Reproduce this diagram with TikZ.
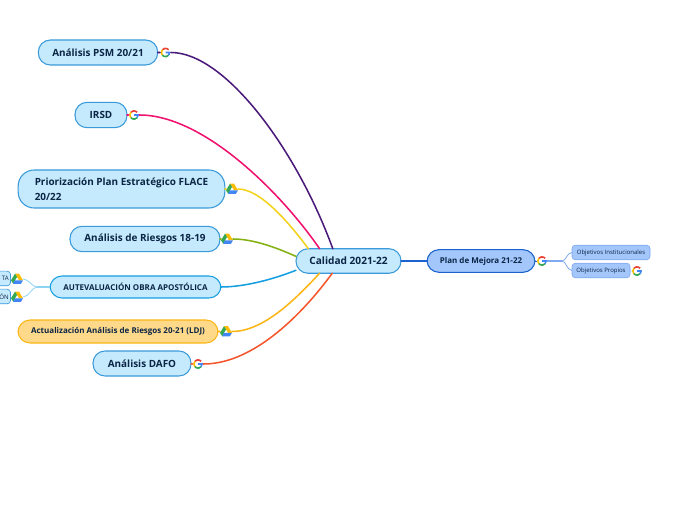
\documentclass[tikz,border=0pt]{standalone}
\usepackage{fontspec}
\setmainfont{Open Sans}
\definecolor{inkblue}{HTML}{0B2545}
\definecolor{gred}{HTML}{EA4335}
\definecolor{gyellow}{HTML}{FBBC05}
\definecolor{ggreen}{HTML}{34A853}
\definecolor{gblue}{HTML}{4285F4}
\definecolor{boxfill}{HTML}{C5E9FD}
\definecolor{boxline}{HTML}{3A9AD9}
\definecolor{planfill}{HTML}{A3C6FB}
\definecolor{planline}{HTML}{1A62CC}
\definecolor{twigplan}{HTML}{7FA9F0}
\definecolor{twigsky}{HTML}{8FD3F4}
\definecolor{ldjfill}{HTML}{FFD98A}
\definecolor{cpurple}{HTML}{4A1A7A}
\definecolor{cpink}{HTML}{F0106E}
\definecolor{cyell}{HTML}{F2D21A}
\definecolor{cgreen}{HTML}{84B012}
\definecolor{cblue}{HTML}{159FE0}
\definecolor{corange}{HTML}{FBB616}
\definecolor{cred}{HTML}{F4552A}
\tikzset{
topicbox/.style={draw,rectangle,rounded corners=9pt,inner sep=0pt,line width=.8pt,text=inkblue,font=\fontsize{7.45}{11.25}\selectfont\bfseries},
sky/.style={topicbox,fill=boxfill,draw=boxline},
leafbox/.style={sky,rounded corners=2.5pt,line width=.5pt,minimum width=22.5pt,minimum height=11pt,text width=20pt,align=right,font=\fontsize{4.6}{6}\selectfont},
objbox/.style={topicbox,fill=planfill,draw=twigplan,rounded corners=2.5pt,line width=.5pt,minimum height=10.9pt,font=\fontsize{4.5}{6}\selectfont\mdseries},
gicon/.style={circle,minimum size=8.2pt,inner sep=0pt,path picture={
\begin{scope}[shift={(path picture bounding box.center)},x=1pt,y=1pt,line width=1.2pt]
\draw[gred] (40:3.1) arc (40:140:3.1);
\draw[gyellow] (140:3.1) arc (140:220:3.1);
\draw[ggreen] (220:3.1) arc (220:320:3.1);
\draw[gblue] (320:3.1) arc (320:360:3.1) -- (0,0);
\end{scope}}},
driveicon/.style={rectangle,minimum width=9pt,minimum height=8pt,inner sep=0pt,path picture={
\begin{scope}[shift={(path picture bounding box.center)},x=1pt,y=1pt]
\fill[gyellow] (-1.5,4) -- (1.5,4) -- (4.5,-1) -- (1.5,-1) -- cycle;
\fill[ggreen] (-1.5,4) -- (0,1.6) -- (-2.8,-3.6) -- (-4.5,-1) -- cycle;
\fill[gblue] (-1.6,-1) -- (4.5,-1) -- (2.9,-3.6) -- (-2.9,-3.6) -- cycle;
\end{scope}}},
cable/.style={line width=1.15pt,line cap=round},
twig/.style={line width=.6pt}
}
\begin{document}
\begin{tikzpicture}[x=.75pt,y=-.75pt,inner sep=0pt,outer sep=0pt]
\useasboundingbox (0,0) rectangle (696,520);
% central node
\draw (348.5,261) node[sky,minimum width=78.75pt,minimum height=18.4pt,font=\fontsize{7.6}{11}\selectfont\bfseries] (calidad) {Calidad 2021-22};
% left side
\draw (98,52.5) node[sky,minimum width=89.5pt,minimum height=18.75pt] (psm) {Análisis PSM 20/21};
\draw (165.5,52.5) node[gicon] (gpsm) {};
\draw (101,115) node[sky,minimum width=39pt,minimum height=19pt] (irsd) {IRSD};
\draw (134,115) node[gicon] (girsd) {};
\draw (121.5,189) node[sky,minimum width=155pt,minimum height=28.5pt,rounded corners=12pt,align=left] (flace) {Priorización Plan Estratégico FLACE\\20/22};
\draw (232,189) node[driveicon] (dflace) {};
\draw (145,239) node[sky,minimum width=112.5pt,minimum height=19pt] (riesgos) {Análisis de Riesgos 18-19};
\draw (227,239) node[driveicon] (driesgos) {};
\draw (135.5,287) node[topicbox,fill=boxfill,draw=cblue,minimum width=128.25pt,minimum height=16.5pt,font=\fontsize{6}{8}\selectfont\bfseries] (obra) {AUTEVALUACIÓN OBRA APOSTÓLICA};
\draw (118,331.5) node[topicbox,fill=ldjfill,draw=corange,minimum width=150pt,minimum height=17.25pt,font=\fontsize{6}{8}\selectfont\bfseries] (ldj) {Actualización Análisis de Riesgos 20-21 (LDJ)};
\draw (226,331.5) node[driveicon] (dldj) {};
\draw (142,363.5) node[sky,minimum width=73.5pt,minimum height=18.75pt] (dafo) {Análisis DAFO};
\draw (198,364) node[gicon] (gdafo) {};
% cut leaves at the border
\draw (-4.5,278.5) node[leafbox] (leafa) {TA};
\draw (17,279) node[driveicon] (dleafa) {};
\draw (-4.5,296.5) node[leafbox] (leafb) {ÓN};
\draw (17,297) node[driveicon] (dleafb) {};
% right side
\draw (481,261) node[topicbox,fill=planfill,draw=planline,minimum width=81pt,minimum height=17pt,font=\fontsize{6}{8}\selectfont\bfseries] (plan) {Plan de Mejora 21-22};
\draw (542,261) node[gicon] (gplan) {};
\draw (611,252.5) node[objbox,minimum width=58.5pt] (inst) {Objetivos Institucionales};
\draw (601,270.5) node[objbox,minimum width=43.5pt] (propios) {Objetivos Propios};
\draw (637,271) node[gicon] (gprop) {};
% connectors
\draw[cable,cpurple] (psm) -- (gpsm) (gpsm.east) .. controls +(54,0) and +(-36,-99) .. (calidad.142);
\draw[cable,cpink] (irsd) -- (girsd) (girsd.east) .. controls +(65,0) and +(-37,-54) .. (calidad.157);
\draw[cable,cyell] (flace) -- (dflace) (dflace.east) .. controls +(22,0) and +(-20,-27) .. (calidad.163);
\draw[cable,cgreen] (riesgos) -- (driesgos) (driesgos.east) .. controls +(20,0) and +(-20,-9) .. (calidad.175);
\draw[cable,cblue] (obra.east) .. controls +(25,0) and +(-20,8) .. (calidad.190);
\draw[cable,corange] (ldj) -- (dldj) (dldj.east) .. controls +(31,0) and +(-25,27) .. (calidad.203);
\draw[cable,cred] (dafo) -- (gdafo) (gdafo.east) .. controls +(52,0) and +(-27,37) .. (calidad.217);
\draw[cable,planline] (calidad) -- (plan);
\draw[twig,planline] (plan) -- (gplan);
\coordinate (forkplan) at (562,261);
\draw[twig,twigplan,line width=.8pt] (gplan) -- (forkplan);
\draw[twig,twigplan] (forkplan) .. controls +(4,0) and +(-5,0) .. (inst.west);
\draw[twig,twigplan] (forkplan) .. controls +(4,0) and +(-5,0) .. (propios.west);
\draw[twig,twigplan] (propios) -- (gprop);
\coordinate (forkobra) at (37,287);
\draw[twig,twigsky,line width=.8pt] (obra) -- (forkobra);
\draw[twig,twigsky] (forkobra) .. controls +(-5,0) and +(6,0) .. (dleafa.east);
\draw[twig,twigsky] (forkobra) .. controls +(-5,0) and +(6,0) .. (dleafb.east);
\draw[twig,twigsky] (leafa) -- (dleafa) (leafb) -- (dleafb);
\end{tikzpicture}
\end{document}
